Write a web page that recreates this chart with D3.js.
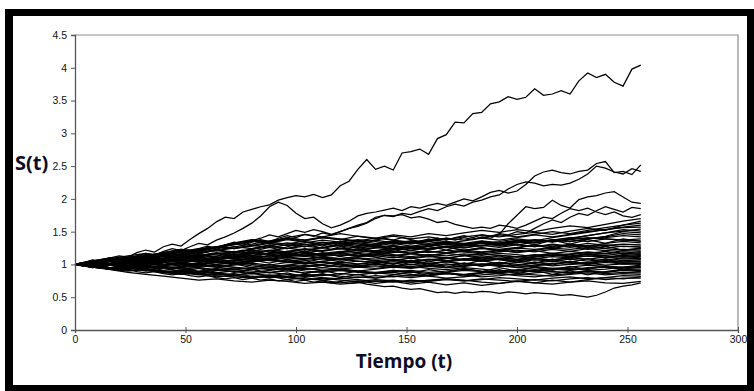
<!DOCTYPE html>
<html><head><meta charset="utf-8">
<script src="https://cdn.jsdelivr.net/npm/d3@7"></script>
<style>html,body{margin:0;padding:0;background:#fff;}svg{display:block}</style>
</head><body><svg id="c" width="754" height="391"></svg>
<script>
// ---- axis ticks ----
const xTicks = [0, 50, 100, 150, 200, 250, 300];
const yTicks = [0, 0.5, 1, 1.5, 2, 2.5, 3, 3.5, 4, 4.5];
const xTitle = "Tiempo (t)";
const yTitle = "S(t)";

// ---- sampling step (days) of the series below ----
const fineStep = 4;
const coarseStep = 8;

// ---- distinct paths, values every 4 days (t = 0..256) ----
const pathTop = [1.00,1.03,1.07,1.05,1.10,1.13,1.11,1.18,1.22,1.19,
 1.27,1.31,1.28,1.38,1.47,1.55,1.65,1.72,1.70,1.80,
 1.84,1.88,1.91,1.98,2.02,2.05,2.03,2.07,2.02,2.06,
 2.20,2.27,2.45,2.60,2.45,2.50,2.44,2.70,2.72,2.76,
 2.68,2.92,2.98,3.17,3.16,3.30,3.32,3.45,3.48,3.56,
 3.52,3.55,3.68,3.58,3.60,3.65,3.60,3.80,3.92,3.85,
 3.90,3.78,3.72,3.98,4.04];
const pathB = [1.00,1.02,1.05,1.03,1.07,1.10,1.08,1.13,1.17,1.14,
 1.20,1.24,1.21,1.27,1.32,1.30,1.37,1.42,1.48,1.55,
 1.63,1.74,1.88,1.95,1.90,1.78,1.70,1.72,1.62,1.56,
 1.60,1.66,1.74,1.78,1.80,1.83,1.86,1.82,1.88,1.86,
 1.90,1.93,1.90,1.95,2.00,1.97,2.03,2.10,2.13,2.09,
 2.12,2.22,2.35,2.41,2.44,2.40,2.38,2.42,2.44,2.54,
 2.57,2.40,2.42,2.37,2.52];
const pathC = [1.00,0.98,1.01,1.04,1.02,1.06,1.09,1.07,1.11,1.15,
 1.12,1.16,1.20,1.17,1.22,1.26,1.23,1.28,1.32,1.29,
 1.34,1.38,1.35,1.40,1.44,1.41,1.46,1.43,1.48,1.45,
 1.50,1.55,1.58,1.63,1.70,1.75,1.73,1.78,1.76,1.81,
 1.85,1.82,1.88,1.92,1.89,1.95,1.98,2.03,2.06,2.15,
 2.22,2.26,2.24,2.20,2.22,2.21,2.24,2.30,2.38,2.50,
 2.47,2.41,2.38,2.46,2.42];
const pathD = [1.00,1.03,0.99,1.02,1.05,1.02,1.06,1.10,1.07,1.11,
 1.15,1.12,1.16,1.20,1.24,1.28,1.25,1.30,1.34,1.31,
 1.36,1.40,1.45,1.42,1.47,1.52,1.49,1.53,1.50,1.46,
 1.50,1.55,1.60,1.64,1.72,1.75,1.74,1.76,1.71,1.73,
 1.69,1.64,1.66,1.61,1.58,1.55,1.57,1.55,1.60,1.58,
 1.55,1.60,1.66,1.72,1.70,1.78,1.85,1.82,1.86,1.80,
 1.76,1.80,1.74,1.72,1.76];
const pathE = [1.00,0.97,1.00,0.97,0.99,1.03,1.01,1.04,1.07,1.05,
 1.09,1.06,1.10,1.13,1.10,1.14,1.17,1.15,1.19,1.22,
 1.19,1.23,1.26,1.23,1.27,1.30,1.27,1.31,1.28,1.32,
 1.35,1.32,1.36,1.33,1.37,1.40,1.37,1.41,1.38,1.35,
 1.39,1.36,1.40,1.37,1.41,1.38,1.42,1.40,1.46,1.62,
 1.75,1.88,1.85,1.87,1.98,1.90,1.86,1.99,2.03,2.05,
 2.09,2.11,2.03,1.95,1.93];
const pathF = [1.00,1.02,0.99,0.96,0.99,1.02,0.99,1.03,1.00,1.04,
 1.07,1.04,1.08,1.05,1.09,1.12,1.09,1.13,1.10,1.14,
 1.17,1.14,1.18,1.21,1.18,1.22,1.19,1.23,1.26,1.23,
 1.27,1.24,1.28,1.31,1.28,1.32,1.35,1.32,1.36,1.33,
 1.37,1.40,1.37,1.41,1.44,1.41,1.45,1.43,1.47,1.45,
 1.50,1.48,1.55,1.62,1.68,1.64,1.72,1.78,1.75,1.82,
 1.88,1.84,1.80,1.87,1.85];
const pathLow = [1.00,0.98,0.95,0.97,0.93,0.91,0.93,0.89,0.87,0.89,
 0.86,0.84,0.86,0.83,0.81,0.83,0.80,0.78,0.80,0.77,
 0.79,0.76,0.78,0.75,0.77,0.74,0.76,0.73,0.75,0.72,
 0.74,0.71,0.73,0.70,0.68,0.66,0.67,0.64,0.62,0.63,
 0.60,0.57,0.58,0.56,0.58,0.57,0.59,0.58,0.56,0.58,
 0.57,0.55,0.57,0.56,0.55,0.53,0.54,0.52,0.50,0.53,
 0.58,0.64,0.67,0.69,0.72];

// ---- bulk of the simulated paths, values every 8 days (t = 0..256) ----
const cloudPaths = [
[1.00,0.97,0.94,0.96,0.92,0.89,0.90,0.86,0.84,0.86,0.82,0.80,0.81,0.78,0.76,0.79,0.77,0.74,0.76,0.73,0.75,0.78,0.76,0.73,0.71,0.74,0.72,0.70,0.73,0.75,0.72,0.71,0.74],
[1.00,0.96,0.92,0.88,0.85,0.82,0.79,0.76,0.78,0.75,0.73,0.76,0.74,0.71,0.73,0.70,0.72,0.75,0.73,0.76,0.74,0.77,0.75,0.78,0.76,0.74,0.77,0.75,0.78,0.80,0.77,0.79,0.79],
[1.00,0.96,0.93,0.95,0.91,0.88,0.85,0.87,0.83,0.81,0.79,0.82,0.80,0.77,0.79,0.76,0.74,0.77,0.75,0.73,0.76,0.78,0.75,0.77,0.80,0.78,0.76,0.79,0.81,0.78,0.80,0.83,0.82],
[1.00,1.03,1.06,1.02,1.05,1.01,0.98,1.00,0.96,0.93,0.95,0.92,0.94,0.90,0.88,0.91,0.89,0.86,0.88,0.85,0.83,0.86,0.84,0.81,0.83,0.86,0.84,0.82,0.85,0.87,0.84,0.86,0.85],
[1.00,0.98,1.01,0.97,0.94,0.96,0.93,0.90,0.92,0.89,0.86,0.88,0.85,0.83,0.85,0.82,0.80,0.83,0.81,0.84,0.82,0.79,0.81,0.84,0.86,0.83,0.81,0.84,0.86,0.89,0.86,0.88,0.87],
[1.00,1.04,1.01,1.05,1.08,1.04,1.07,1.03,1.00,1.02,0.98,0.95,0.97,0.94,0.91,0.93,0.90,0.88,0.91,0.89,0.86,0.88,0.91,0.89,0.87,0.90,0.92,0.89,0.87,0.90,0.88,0.91,0.89],
[1.00,0.97,0.99,0.95,0.92,0.90,0.87,0.84,0.86,0.83,0.81,0.84,0.82,0.85,0.83,0.86,0.84,0.87,0.85,0.82,0.84,0.87,0.85,0.88,0.86,0.84,0.87,0.89,0.87,0.90,0.88,0.92,0.91],
[1.00,1.02,1.05,1.08,1.11,1.08,1.12,1.15,1.12,1.09,1.06,1.08,1.04,1.01,1.03,0.99,0.96,0.98,0.95,0.97,0.94,0.92,0.95,0.93,0.90,0.92,0.95,0.93,0.91,0.94,0.96,0.93,0.93],
[1.00,0.98,0.95,0.97,0.99,0.96,0.93,0.95,0.91,0.93,0.90,0.88,0.90,0.87,0.89,0.91,0.88,0.86,0.89,0.91,0.88,0.90,0.93,0.90,0.88,0.91,0.89,0.92,0.94,0.91,0.93,0.96,0.95],
[1.00,1.03,1.00,1.04,1.02,1.06,1.03,1.07,1.05,1.02,1.05,1.08,1.05,1.02,1.04,1.01,0.98,1.00,0.97,1.00,0.98,0.95,0.97,1.00,0.98,0.95,0.97,0.94,0.96,0.99,0.97,0.95,0.97],
[1.00,0.97,0.94,0.91,0.93,0.90,0.87,0.89,0.86,0.84,0.86,0.83,0.81,0.83,0.80,0.78,0.81,0.79,0.82,0.80,0.83,0.86,0.84,0.87,0.90,0.88,0.91,0.94,0.92,0.95,0.97,0.96,0.99],
[1.00,1.04,1.07,1.11,1.08,1.12,1.16,1.13,1.17,1.14,1.18,1.15,1.12,1.14,1.10,1.07,1.09,1.06,1.08,1.05,1.02,1.04,1.01,0.98,1.00,1.03,1.01,0.98,1.00,1.02,0.99,1.01,1.00],
[1.00,0.98,1.01,0.99,0.96,0.98,1.01,0.98,1.00,1.03,1.00,0.97,0.99,1.02,0.99,0.96,0.98,1.01,0.98,1.00,0.97,0.99,1.02,1.00,0.97,0.99,1.02,1.05,1.02,1.00,1.03,1.01,1.02],
[1.00,1.02,0.99,1.03,1.06,1.03,1.00,0.97,0.99,0.96,0.93,0.95,0.92,0.94,0.91,0.93,0.96,0.94,0.97,0.95,0.98,1.01,0.98,1.00,1.03,1.00,0.98,1.01,1.04,1.02,1.05,1.03,1.04],
[1.00,0.96,0.93,0.90,0.92,0.88,0.86,0.89,0.87,0.90,0.88,0.91,0.94,0.92,0.95,0.93,0.90,0.93,0.96,0.94,0.97,0.95,0.98,1.01,0.99,0.96,0.99,1.02,1.00,1.03,1.06,1.04,1.05],
[1.00,1.03,1.06,1.10,1.14,1.17,1.14,1.18,1.21,1.18,1.22,1.19,1.16,1.19,1.15,1.18,1.14,1.11,1.14,1.10,1.13,1.10,1.07,1.10,1.07,1.04,1.07,1.05,1.08,1.05,1.08,1.06,1.07],
[1.00,1.02,1.05,1.02,1.06,1.04,1.08,1.05,1.03,1.06,1.04,1.07,1.05,1.02,1.05,1.08,1.05,1.03,1.06,1.04,1.07,1.10,1.07,1.05,1.08,1.06,1.09,1.07,1.10,1.08,1.11,1.08,1.09],
[1.00,0.97,1.00,0.97,0.94,0.97,0.95,0.98,0.96,0.99,1.02,0.99,1.03,1.01,1.04,1.02,1.05,1.03,1.06,1.04,1.01,1.04,1.07,1.05,1.08,1.06,1.09,1.07,1.10,1.13,1.10,1.12,1.10],
[1.00,1.03,1.07,1.04,1.08,1.12,1.09,1.13,1.17,1.14,1.18,1.22,1.19,1.23,1.20,1.24,1.21,1.18,1.20,1.17,1.14,1.17,1.14,1.11,1.14,1.12,1.09,1.12,1.10,1.13,1.11,1.14,1.12],
[1.00,0.98,0.95,0.93,0.96,0.94,0.97,0.95,0.92,0.95,0.93,0.96,0.99,0.97,1.00,1.03,1.01,1.04,1.02,1.05,1.08,1.06,1.09,1.07,1.10,1.08,1.11,1.14,1.12,1.15,1.13,1.11,1.13],
[1.00,1.04,1.01,1.05,1.03,1.07,1.10,1.07,1.11,1.08,1.12,1.09,1.13,1.16,1.13,1.17,1.14,1.18,1.15,1.12,1.15,1.13,1.16,1.14,1.17,1.15,1.12,1.15,1.13,1.16,1.14,1.17,1.15],
[1.00,0.97,1.00,1.03,1.00,1.03,1.06,1.04,1.07,1.05,1.08,1.06,1.03,1.06,1.09,1.07,1.10,1.08,1.11,1.09,1.12,1.10,1.13,1.16,1.14,1.11,1.14,1.17,1.15,1.18,1.16,1.19,1.17],
[1.00,1.03,1.06,1.09,1.13,1.16,1.20,1.24,1.21,1.25,1.29,1.26,1.30,1.27,1.31,1.28,1.25,1.28,1.24,1.27,1.23,1.26,1.22,1.19,1.22,1.18,1.21,1.17,1.20,1.17,1.20,1.16,1.18],
[1.00,0.96,0.93,0.95,0.92,0.89,0.91,0.88,0.91,0.89,0.92,0.95,0.93,0.96,0.99,0.97,1.00,1.03,1.01,1.04,1.07,1.05,1.08,1.11,1.09,1.12,1.15,1.13,1.16,1.19,1.17,1.21,1.20],
[1.00,1.02,1.05,1.03,1.06,1.09,1.06,1.10,1.07,1.11,1.14,1.11,1.15,1.12,1.16,1.13,1.17,1.14,1.18,1.21,1.18,1.22,1.19,1.16,1.19,1.22,1.19,1.23,1.20,1.24,1.21,1.23,1.22],
[1.00,1.03,1.00,0.98,1.01,0.99,1.02,1.00,1.03,1.06,1.04,1.07,1.10,1.08,1.11,1.09,1.12,1.15,1.13,1.16,1.14,1.17,1.20,1.18,1.21,1.19,1.22,1.25,1.23,1.26,1.24,1.22,1.24],
[1.00,1.05,1.09,1.13,1.17,1.14,1.19,1.23,1.27,1.24,1.28,1.32,1.29,1.33,1.37,1.34,1.38,1.35,1.31,1.34,1.30,1.33,1.29,1.32,1.28,1.31,1.27,1.30,1.26,1.29,1.25,1.28,1.26],
[1.00,0.98,1.01,0.99,1.02,1.05,1.03,1.06,1.04,1.07,1.10,1.08,1.11,1.09,1.12,1.15,1.13,1.16,1.19,1.17,1.20,1.18,1.21,1.24,1.22,1.25,1.23,1.26,1.29,1.27,1.30,1.27,1.28],
[1.00,1.04,1.08,1.05,1.09,1.13,1.10,1.14,1.18,1.15,1.19,1.16,1.20,1.24,1.21,1.25,1.22,1.26,1.23,1.27,1.24,1.28,1.25,1.29,1.26,1.30,1.27,1.31,1.28,1.32,1.29,1.31,1.30],
[1.00,0.97,0.95,0.98,0.96,0.99,1.02,1.00,1.03,1.01,1.04,1.07,1.05,1.08,1.11,1.09,1.12,1.15,1.13,1.17,1.20,1.18,1.22,1.25,1.23,1.26,1.30,1.27,1.31,1.28,1.32,1.35,1.33],
[1.00,1.03,1.07,1.05,1.10,1.14,1.19,1.16,1.22,1.27,1.31,1.36,1.40,1.37,1.41,1.38,1.34,1.37,1.33,1.36,1.32,1.35,1.31,1.34,1.30,1.33,1.37,1.34,1.38,1.35,1.39,1.37,1.36],
[1.00,1.02,1.05,1.08,1.06,1.09,1.12,1.10,1.13,1.16,1.14,1.17,1.20,1.18,1.21,1.24,1.22,1.25,1.28,1.26,1.29,1.32,1.30,1.33,1.31,1.34,1.37,1.35,1.38,1.41,1.39,1.37,1.39],
[1.00,1.05,1.10,1.07,1.13,1.18,1.23,1.20,1.27,1.32,1.37,1.34,1.40,1.37,1.42,1.39,1.36,1.40,1.37,1.34,1.38,1.35,1.32,1.36,1.33,1.37,1.34,1.38,1.35,1.39,1.41,1.44,1.42],
[1.00,0.98,1.01,1.04,1.02,1.05,1.08,1.06,1.09,1.12,1.10,1.13,1.16,1.14,1.17,1.20,1.18,1.21,1.24,1.22,1.25,1.28,1.26,1.29,1.32,1.30,1.34,1.37,1.35,1.39,1.42,1.47,1.45],
[1.00,1.04,1.08,1.06,1.11,1.15,1.20,1.17,1.22,1.27,1.24,1.29,1.33,1.30,1.34,1.31,1.35,1.32,1.36,1.33,1.30,1.34,1.31,1.35,1.32,1.36,1.33,1.37,1.41,1.39,1.43,1.50,1.48],
[1.00,1.02,0.99,1.02,1.05,1.03,1.06,1.09,1.07,1.10,1.13,1.11,1.14,1.17,1.15,1.18,1.21,1.19,1.22,1.25,1.23,1.27,1.30,1.28,1.32,1.35,1.33,1.37,1.40,1.44,1.48,1.53,1.51],
[1.00,1.05,1.10,1.07,1.13,1.18,1.15,1.21,1.26,1.31,1.36,1.33,1.39,1.35,1.31,1.35,1.31,1.28,1.32,1.28,1.31,1.27,1.30,1.34,1.31,1.35,1.38,1.35,1.39,1.44,1.48,1.51,1.54],
[1.00,1.03,1.06,1.09,1.13,1.17,1.14,1.18,1.22,1.19,1.23,1.27,1.24,1.28,1.25,1.29,1.33,1.30,1.34,1.31,1.35,1.32,1.36,1.40,1.37,1.41,1.45,1.42,1.46,1.50,1.53,1.56,1.57],
[1.00,1.04,1.09,1.06,1.12,1.17,1.22,1.19,1.25,1.30,1.35,1.32,1.38,1.34,1.30,1.33,1.29,1.26,1.29,1.25,1.28,1.31,1.28,1.32,1.35,1.39,1.36,1.41,1.45,1.49,1.53,1.57,1.60],
[1.00,1.02,1.05,1.03,1.07,1.10,1.14,1.12,1.16,1.20,1.17,1.21,1.25,1.22,1.26,1.30,1.27,1.31,1.35,1.32,1.36,1.40,1.37,1.41,1.45,1.42,1.46,1.50,1.47,1.52,1.56,1.60,1.63],
[1.00,1.04,1.09,1.06,1.12,1.18,1.23,1.20,1.27,1.33,1.38,1.35,1.41,1.46,1.42,1.47,1.43,1.39,1.43,1.39,1.42,1.38,1.42,1.45,1.42,1.46,1.49,1.46,1.51,1.55,1.52,1.60,1.66],
[1.00,1.03,1.07,1.11,1.15,1.12,1.17,1.22,1.27,1.24,1.29,1.34,1.31,1.36,1.41,1.38,1.43,1.40,1.45,1.42,1.47,1.44,1.48,1.52,1.49,1.53,1.50,1.55,1.59,1.56,1.61,1.66,1.70],
[1.00,1.05,0.99,1.04,0.98,1.03,0.97,1.02,0.96,1.01,0.95,1.00,0.94,0.99,0.95,1.01,0.96,1.02,0.97,1.03,0.99,1.05,1.00,1.06,1.01,1.07,1.02,1.08,1.03,1.09,1.04,1.10,1.08],
[1.00,0.95,0.99,0.93,0.97,0.91,0.95,0.89,0.94,0.88,0.93,0.87,0.92,0.86,0.91,0.85,0.90,0.86,0.91,0.87,0.92,0.88,0.94,0.89,0.95,0.90,0.96,0.91,0.97,0.92,0.98,0.93,0.96],
[1.00,1.04,1.09,1.03,1.08,1.13,1.07,1.12,1.17,1.11,1.16,1.21,1.15,1.20,1.14,1.19,1.24,1.18,1.23,1.17,1.22,1.27,1.21,1.26,1.20,1.25,1.30,1.24,1.29,1.23,1.28,1.22,1.25],
[1.00,1.06,1.01,1.07,1.12,1.06,1.11,1.05,1.10,1.15,1.09,1.14,1.19,1.13,1.18,1.12,1.17,1.11,1.05,1.10,1.04,1.09,1.14,1.08,1.13,1.07,1.12,1.17,1.11,1.16,1.10,1.15,1.14],
[1.00,0.96,1.01,0.95,0.90,0.95,0.89,0.94,0.88,0.83,0.88,0.82,0.87,0.81,0.86,0.80,0.85,0.79,0.84,0.89,0.83,0.88,0.82,0.87,0.92,0.86,0.91,0.85,0.90,0.84,0.89,0.93,0.90],
[1.00,1.05,1.10,1.04,1.10,1.16,1.10,1.17,1.23,1.17,1.24,1.30,1.24,1.31,1.25,1.32,1.26,1.20,1.27,1.21,1.28,1.22,1.29,1.35,1.29,1.36,1.30,1.37,1.31,1.38,1.32,1.39,1.35],
[1.00,0.97,1.02,0.98,1.03,0.99,1.04,1.00,1.06,1.01,1.07,1.02,1.08,1.03,1.09,1.04,1.10,1.05,1.00,1.06,1.01,0.96,1.02,0.97,1.03,0.98,1.04,0.99,1.05,1.00,1.06,1.01,1.02],
[1.00,0.97,0.93,0.96,0.91,0.87,0.90,0.85,0.81,0.84,0.79,0.82,0.77,0.80,0.76,0.72,0.75,0.71,0.74,0.70,0.73,0.69,0.72,0.68,0.71,0.75,0.72,0.76,0.73,0.77,0.80,0.78,0.81]
];

const fineSeries = [pathTop, pathB, pathC, pathD, pathE, pathF, pathLow];

// ---------------- drawing ----------------
const W = 754, H = 391;
const svg = d3.select("#c");

// outer black frame
svg.append("rect").attr("x", 5).attr("y", 9).attr("width", W - 5).attr("height", H - 9).attr("fill", "#000");
svg.append("rect").attr("x", 13).attr("y", 16).attr("width", 734).attr("height", 369).attr("fill", "#fff");

const x = d3.scaleLinear().domain([0, 300]).range([75, 738]);
const y = d3.scaleLinear().domain([0, 4.5]).range([330, 35]);

// plot area border (top & right)
svg.append("path")
  .attr("d", `M${x(0)},${y(4.5)}H${x(300)}V${y(0)}`)
  .attr("fill", "none").attr("stroke", "#8c8c8c").attr("stroke-width", 1.2);

const line = d3.line().x(d => x(d.t)).y(d => y(d.v));
const toPts = (arr, step) => arr.map((v, i) => ({ t: i * step, v }));

const gLines = svg.append("g");
gLines.selectAll("path.cloud").data(cloudPaths).join("path")
  .attr("class", "cloud")
  .attr("d", d => line(toPts(d, coarseStep)))
  .attr("fill", "none").attr("stroke", "#000").attr("stroke-width", 1.25);
gLines.selectAll("path.fine").data(fineSeries).join("path")
  .attr("class", "fine")
  .attr("d", d => line(toPts(d, fineStep)))
  .attr("fill", "none").attr("stroke", "#000").attr("stroke-width", 1.25);

// axes
const axisColor = "#555";
const gx = svg.append("g").attr("transform", `translate(0,${y(0)})`)
  .call(d3.axisBottom(x).tickValues(xTicks).tickSize(3).tickPadding(3).tickFormat(d3.format("d")));
gx.selectAll(".tick line").attr("y1", -3).attr("y2", 3);
const gy = svg.append("g").attr("transform", `translate(${x(0)},0)`)
  .call(d3.axisLeft(y).tickValues(yTicks).tickSize(4).tickPadding(4).tickFormat(d => String(d)));
[gx, gy].forEach(g => {
  g.select(".domain").attr("stroke", axisColor).attr("stroke-width", 1.3);
  g.selectAll(".tick line").attr("stroke", axisColor);
  g.selectAll(".tick text").attr("fill", "#111")
    .style("font-family", "'Liberation Sans', Arial, sans-serif").style("font-size", "10.5px");
});

// titles
svg.append("text").text(xTitle)
  .attr("x", 404).attr("y", 368).attr("text-anchor", "middle")
  .style("font-family", "'Open Sans', sans-serif").style("font-weight", "700").style("font-size", "19px")
  .attr("fill", "#0d0d26");
svg.append("text").text(yTitle)
  .attr("x", 15).attr("y", 170)
  .style("font-family", "'Open Sans', sans-serif").style("font-weight", "700").style("font-size", "20px")
  .attr("fill", "#0d0d26");
</script>
</body></html>
